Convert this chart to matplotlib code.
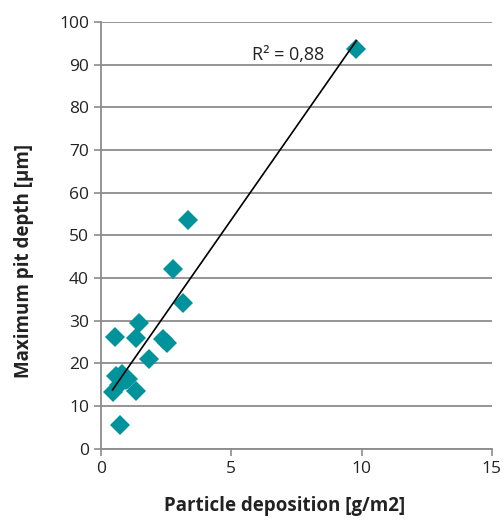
import matplotlib.pyplot as plt
import numpy as np

plt.rcParams['font.family'] = ['Open Sans', 'DejaVu Sans']

# Data
deposition = [9.8, 3.35, 2.75, 3.15, 1.45, 0.55, 1.35, 2.4, 2.55, 1.85,
              0.6, 0.8, 0.95, 1.05, 0.45, 1.35, 0.75, 0.7]
pit_depth = [93.6, 53.6, 42.2, 34.2, 29.5, 26.1, 26.0, 25.6, 24.8, 21.0,
             17.0, 17.5, 16.0, 16.4, 13.4, 13.6, 5.6, 15.0]

x = np.array(deposition)
y = np.array(pit_depth)

fig = plt.figure(figsize=(5.04, 5.2), dpi=100)
ax = fig.add_axes([0.2, 0.137, 0.776, 0.821])

ax.set_axisbelow(True)
ax.yaxis.grid(True, color='#8c8c8c', linewidth=1.3)

ax.plot(x, y, 'D', color='#00939B', markersize=10, markeredgewidth=0, zorder=3)

# linear trend line
slope, intercept = np.polyfit(x, y, 1)
xl = np.array([x.min(), x.max()])
ax.plot(xl, slope * xl + intercept, color='black', linewidth=1.2, zorder=4)
ax.text(5.8, 91, 'R² = 0,88', fontsize=13, color='#222222')

ax.set_xlim(0, 15)
ax.set_ylim(0, 100)
ax.set_xticks([0, 5, 10, 15])
ax.set_yticks(range(0, 101, 10))
ax.tick_params(labelsize=12.5, colors='#222222', length=5, width=1.2)
ax.tick_params(axis='both', color='#8c8c8c')

for s in ['top', 'right']:
    ax.spines[s].set_visible(False)
for s in ['left', 'bottom']:
    ax.spines[s].set_color('#8c8c8c')
    ax.spines[s].set_linewidth(1.3)

ax.set_xlabel('Particle deposition [g/m2]', fontsize=13.5, fontweight='bold', color='#222222')
ax.set_ylabel('Maximum pit depth [µm]', fontsize=13.5, fontweight='bold', color='#222222')
ax.xaxis.set_label_coords(0.47, -0.11)
ax.yaxis.set_label_coords(-0.17, 0.44)

fig.savefig('out.png', dpi=100)
